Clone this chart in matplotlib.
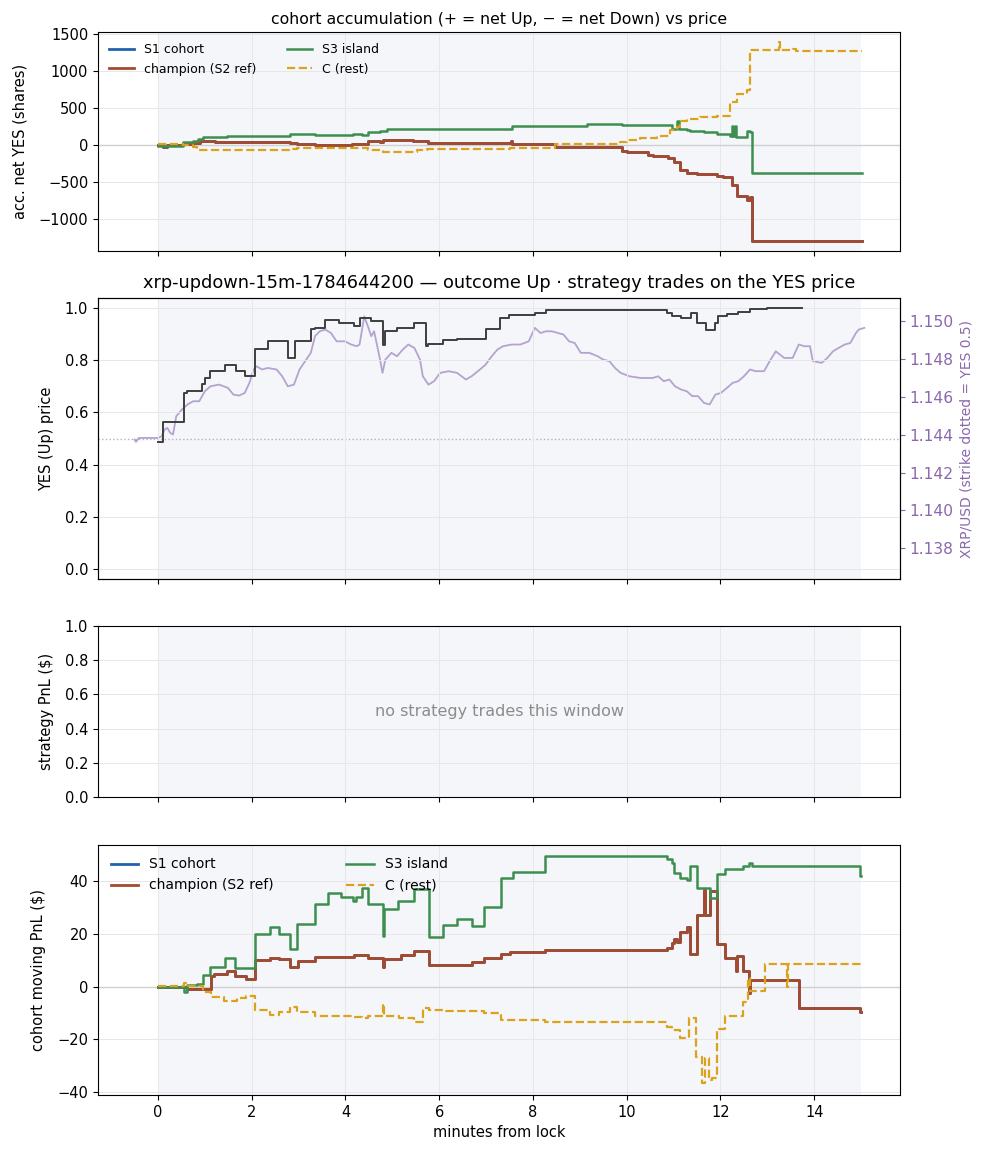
import matplotlib
matplotlib.use("Agg")
import matplotlib.pyplot as plt
import matplotlib.ticker as mticker

# ---------------- data ----------------
# panel 1: accumulated net YES shares (step-post)
acc_s3_t = [0, 0.54, 0.75, 0.86, 0.97, 1.47, 2.82, 3.35, 4.17, 4.35, 4.49, 4.74, 4.88, 7.55, 9.15, 9.89,
            10.96, 11.08, 11.12, 11.28, 11.35, 11.64, 11.92, 12.21, 12.24, 12.27, 12.31, 12.34, 12.56, 12.62,
            12.67, 15.02]
acc_s3_v = [-13, 36, 58, 76, 112, 126, 148, 135, 148, 130, 171, 193, 220, 262, 283, 265,
            216, 330, 212, 205, 194, 180, 150, 122, 256, 122, 256, 115, 194, 180,
            -382, -382]

acc_ch_t = [0, 0.1, 0.2, 0.54, 0.75, 0.9, 1.22, 2.82, 2.96, 3.35, 4.14, 4.49, 4.74, 4.81, 5.45, 5.77,
            7.53, 7.56, 8.47, 9.89, 10.0, 10.46, 10.57, 10.89, 11.0, 11.14, 11.28, 11.5, 11.92, 12.06,
            12.24, 12.35, 12.56, 12.62, 12.67, 13.66, 15.02]
acc_ch_v = [-5, -30, -5, 13, 31, 54, 36, 22, 9, 4, 18, 54, 40, 67, 54, 27,
            60, 18, -31, -76, -99, -135, -144, -180, -225, -338, -373, -391, -414, -428,
            -540, -684, -742, -700, -1297, -1291, -1291]

acc_c_t = [0, 0.54, 0.75, 0.83, 2.82, 2.96, 4.1, 4.49, 4.81, 5.52, 5.73, 7.5, 8.47, 9.85, 10.0, 10.28,
           10.64, 10.93, 11.07, 11.14, 11.28, 11.57, 11.92, 12.21, 12.35, 12.56, 12.63, 13.24, 13.27,
           13.55, 13.62, 15.02]
acc_c_v = [9, -5, -31, -67, -50, -36, -45, -67, -90, -72, -54, -36, 9, 45, 67, 90,
           121, 202, 247, 328, 346, 373, 391, 585, 688, 742, 1282, 1393, 1282,
           1300, 1269, 1269]

# panel 2: YES (Up) price and XRP/USD
yes_t = [0, 0.1, 0.56, 0.61, 0.94, 1.0, 1.12, 1.43, 1.67, 1.85, 2.07, 2.34, 2.77, 2.93, 3.26, 3.35,
         3.57, 3.87, 4.18, 4.3, 4.55, 4.79, 4.85, 5.1, 5.47, 5.71, 5.77, 6.08, 6.38, 6.99, 7.3, 7.48,
         8.04, 8.28, 10.85, 10.97, 11.16, 11.38, 11.5, 11.7, 11.89, 11.95, 12.14, 12.38, 12.63, 12.99,
         13.73]
yes_v = [0.486, 0.563, 0.676, 0.682, 0.708, 0.733, 0.759, 0.781, 0.759, 0.742, 0.845, 0.874, 0.81,
         0.874, 0.919, 0.926, 0.955, 0.945, 0.932, 0.964, 0.951, 0.86, 0.913, 0.926, 0.945, 0.855,
         0.862, 0.88, 0.883, 0.919, 0.964, 0.973, 0.983, 0.994, 0.983, 0.97, 0.964, 0.983, 0.945,
         0.917, 0.945, 0.97, 0.979, 0.986, 0.996, 1.0, 1.0]

xrp_t = [-0.50, -0.47, -0.41, 0.0, 0.08, 0.14, 0.20, 0.26, 0.32, 0.39, 0.51, 0.63, 0.75, 0.88, 1.0,
         1.12, 1.30, 1.49, 1.61, 1.73, 1.85, 1.95, 2.04, 2.10, 2.22, 2.34, 2.53, 2.65, 2.77, 2.90,
         3.02, 3.14, 3.26, 3.35, 3.45, 3.57, 3.69, 3.81, 3.99, 4.12, 4.24, 4.30, 4.40, 4.49, 4.55,
         4.61, 4.67, 4.73, 4.79, 4.85, 4.98, 5.10, 5.22, 5.34, 5.47, 5.59, 5.65, 5.77, 5.89, 6.02,
         6.20, 6.38, 6.57, 6.69, 6.87, 6.99, 7.12, 7.24, 7.36, 7.55, 7.73, 7.91, 8.04, 8.16, 8.28,
         8.40, 8.53, 8.65, 8.77, 8.89, 9.02, 9.20, 9.38, 9.50, 9.63, 9.75, 9.87, 10.06, 10.30, 10.55,
         10.67, 10.79, 10.91, 11.03, 11.16, 11.28, 11.40, 11.52, 11.65, 11.77, 11.89, 12.01, 12.14,
         12.26, 12.38, 12.50, 12.63, 12.75, 12.93, 13.05, 13.18, 13.36, 13.54, 13.67, 13.79, 13.91,
         13.97, 14.16, 14.28, 14.40, 14.52, 14.65, 14.77, 14.89, 14.95, 15.07]
xrp_p = [1.14374, 1.14362, 1.14383, 1.14383, 1.14392, 1.14427, 1.14436, 1.14410, 1.14401, 1.14498,
         1.14533, 1.14560, 1.14577, 1.14577, 1.14630, 1.14656, 1.14665, 1.14648, 1.14612, 1.14607,
         1.14621, 1.14674, 1.14745, 1.14762, 1.14745, 1.14753, 1.14745, 1.14709, 1.14656, 1.14665,
         1.14745, 1.14789, 1.14833, 1.14921, 1.14947, 1.14956, 1.14938, 1.14894, 1.14894, 1.14877,
         1.14868, 1.14877, 1.15026, 1.14965, 1.14921, 1.14947, 1.14877, 1.14806, 1.14727, 1.14797,
         1.14833, 1.14815, 1.14850, 1.14877, 1.14859, 1.14797, 1.14709, 1.14665, 1.14683, 1.14727,
         1.14736, 1.14727, 1.14692, 1.14709, 1.14745, 1.14771, 1.14815, 1.14850, 1.14868, 1.14877,
         1.14877, 1.14894, 1.14965, 1.14938, 1.14947, 1.14947, 1.14938, 1.14930, 1.14894, 1.14885,
         1.14833, 1.14833, 1.14815, 1.14797, 1.14789, 1.14753, 1.14727, 1.14709, 1.14700, 1.14700,
         1.14709, 1.14683, 1.14692, 1.14656, 1.14639, 1.14630, 1.14604, 1.14604, 1.14568, 1.14560,
         1.14612, 1.14621, 1.14648, 1.14674, 1.14683, 1.14709, 1.14745, 1.14736, 1.14736, 1.14789,
         1.14841, 1.14806, 1.14806, 1.14877, 1.14868, 1.14868, 1.14789, 1.14780, 1.14806, 1.14841,
         1.14859, 1.14877, 1.14885, 1.14938, 1.14956, 1.14965]
strike = 1.1438
xrp_half_range = 0.00743

# panel 4: cohort moving PnL ($)
pnl_s3_t = [0, 0.56, 0.61, 0.84, 0.95, 1.12, 1.43, 1.65, 2.07, 2.40, 2.59, 2.82, 2.96, 3.35, 3.63, 3.91,
            4.17, 4.22, 4.36, 4.49, 4.80, 4.83, 5.11, 5.47, 5.78, 6.09, 6.37, 6.70, 6.95, 7.32, 7.58,
            8.25, 10.86, 10.96, 11.0, 11.14, 11.28, 11.34, 11.49, 11.77, 11.92, 12.1, 12.49, 12.6,
            12.67, 14.98, 15.0]
pnl_s3_v = [0, -2, 0.5, 1.1, 4.3, 7.5, 10.9, 7.1, 19.8, 22.6, 19.8, 14.4, 23.6, 31.2, 35.5, 34.0,
            32.5, 34.0, 37.5, 31.2, 19.1, 29.5, 32.5, 36.8, 18.8, 23.3, 25.5, 22.9, 30.2, 41.3, 43.6,
            49.3, 48.3, 46.7, 43.2, 41.3, 40.4, 45.8, 37.5, 33.4, 42.5, 44.4, 45.8, 46.7,
            45.7, 42.0, 42.0]

pnl_ch_t = [0, 0.61, 1.14, 1.2, 1.47, 1.65, 1.87, 2.07, 2.40, 2.59, 2.82, 2.99, 3.35, 4.19, 4.49, 4.80,
            4.83, 5.18, 5.47, 5.78, 6.70, 6.95, 7.32, 7.52, 8.25, 10.86, 10.96, 11.0, 11.07, 11.14,
            11.28, 11.34, 11.49, 11.64, 11.67, 11.77, 11.92, 12.1, 12.33, 12.36, 12.48, 12.6, 12.63,
            13.68, 14.98, 15.0]
pnl_ch_v = [0, -0.8, 3.9, 4.9, 5.9, 4.0, 2.8, 10.0, 10.9, 10.4, 7.5, 9.7, 11.1, 11.8, 10.9, 7.5,
            10.5, 11.9, 13.5, 8.3, 9.4, 10.9, 12.5, 13.0, 13.8, 14.6, 16.5, 17.9, 17.0, 20.7,
            22.7, 12.2, 27.1, 36.6, 27.1, 36.2, 16.0, 10.9, 5.9, 11.6, 5.9, -2.6, 2.5,
            -8.3, -9.6, -9.6]

pnl_c_t = [0, 0.56, 0.61, 0.95, 1.14, 1.40, 1.68, 1.87, 2.07, 2.40, 2.59, 2.82, 2.96, 3.35, 4.19, 4.36,
           4.49, 4.80, 4.83, 5.14, 5.47, 5.66, 5.78, 6.15, 6.95, 7.32, 8.25, 10.86, 10.96, 11.14,
           11.32, 11.47, 11.6, 11.67, 11.76, 11.81, 11.92, 12.1, 12.49, 12.58, 12.63, 12.95, 13.41,
           13.44, 15.0]
pnl_c_v = [0.2, 1.4, 0.1, -2.0, -3.9, -5.4, -4.3, -3.5, -9.0, -10.6, -9.6, -7.7, -9.6, -11.1, -11.6,
           -12.1, -11.1, -6.8, -11.1, -12.1, -13.4, -8.3, -9.0, -9.4, -10.2, -12.8, -13.5, -15.2,
           -16.5, -19.4, -12.0, -26.6, -36.6, -27.2, -35.3, -34.7, -15.9, -11.1, -5.8, 3.1, -1.7,
           8.4, 0.0, 8.4, 8.2]

x_ticks = [0, 2, 4, 6, 8, 10, 12, 14]
window_start, window_end = 0, 15

# ---------------- styling ----------------
C_S1 = "#2161ad"
C_CH = "#a64a2e"
C_S3 = "#3d8f50"
C_C = "#dba31c"
C_YES = "#3f3f3f"
C_XRP = "#b4a3cf"
C_PURPLE = "#8a68ad"
SPAN = "#f5f6fa"
GRID = "#e7e7ea"

plt.rcParams["font.family"] = ["DejaVu Sans"]
plt.rcParams["font.size"] = 10.5

fig = plt.figure(figsize=(9.88, 11.56), dpi=100)
L, W = 98 / 988, 802 / 988


def mk(top_px, bot_px):
    return fig.add_axes([L, 1 - bot_px / 1156, W, (bot_px - top_px) / 1156])


ax1 = mk(32, 251)
ax2 = mk(298, 579)
ax3 = mk(626, 797)
ax4 = mk(845, 1095)

xlim = (-1.28, 15.83)
for ax in (ax1, ax2, ax3, ax4):
    if ax is not ax2:
        ax.axvspan(window_start, window_end, color=SPAN, zorder=0, lw=0)
    ax.set_xlim(*xlim)
    ax.set_xticks(x_ticks)
    ax.grid(True, color=GRID, lw=0.7, zorder=0.5)
    ax.set_axisbelow(True)
    ax.tick_params(labelsize=10.5)
for ax in (ax1, ax2, ax3):
    ax.tick_params(labelbottom=False)

# panel 1
ax1.axhline(0, color="#d0d0d0", lw=1.0, zorder=1)
ax1.plot(acc_ch_t, acc_ch_v, drawstyle="steps-post", color=C_S1, lw=2.0, label="S1 cohort", zorder=2)
ax1.plot(acc_ch_t, acc_ch_v, drawstyle="steps-post", color=C_CH, lw=2.0, label="champion (S2 ref)", zorder=3)
ax1.plot(acc_s3_t, acc_s3_v, drawstyle="steps-post", color=C_S3, lw=1.8, label="S3 island", zorder=3)
ax1.plot(acc_c_t, acc_c_v, drawstyle="steps-post", color=C_C, lw=1.6, ls="--", label="C (rest)", zorder=4)
ax1.set_ylim(-1432, 1527)
ax1.set_yticks([-1000, -500, 0, 500, 1000, 1500])
ax1.set_ylabel("acc. net YES (shares)", labelpad=8)
ax1.set_title("cohort accumulation (+ = net Up, \u2212 = net Down) vs price", fontsize=11.3, pad=6)
ax1.legend(loc="upper left", ncol=2, frameon=False, fontsize=9, handlelength=2.0, columnspacing=2.4)

# panel 2
ax2.plot(yes_t, yes_v, drawstyle="steps-post", color=C_YES, lw=1.4, zorder=3)
ax2.set_ylim(-0.04, 1.04)
ax2.set_yticks([0.0, 0.2, 0.4, 0.6, 0.8, 1.0])
ax2.set_ylabel("YES (Up) price", labelpad=8)
ax2.set_title("xrp-updown-15m-1784644200 \u2014 outcome Up \u00b7 strategy trades on the YES price",
              fontsize=12.8, pad=7)
ax2r = ax2.twinx()
ax2r.set_facecolor("white")
ax2r.axvspan(window_start, window_end, color=SPAN, zorder=0, lw=0)
ax2r.plot(xrp_t, xrp_p, color=C_XRP, lw=1.3, zorder=2)
ax2r.axhline(strike, color="#b9aac9", lw=1.0, ls=":", zorder=1)
ax2r.set_ylim(strike - xrp_half_range, strike + xrp_half_range)
ax2r.set_yticks([1.138, 1.140, 1.142, 1.144, 1.146, 1.148, 1.150])
ax2r.yaxis.set_major_formatter(mticker.FormatStrFormatter("%.3f"))
ax2r.tick_params(axis="y", colors=C_PURPLE, labelsize=11.2)
ax2r.set_ylabel("XRP/USD (strike dotted = YES 0.5)", color=C_PURPLE, fontsize=10)
ax2.set_zorder(ax2r.get_zorder() + 1)
ax2.patch.set_visible(False)

# panel 3
ax3.set_ylim(0, 1)
ax3.set_yticks([0.0, 0.2, 0.4, 0.6, 0.8, 1.0])
ax3.set_ylabel("strategy PnL ($)", labelpad=8)
ax3.text(0.5, 0.5, "no strategy trades this window", transform=ax3.transAxes,
         ha="center", va="center", color="#8c8c8c", fontsize=11.5)

# panel 4
ax4.axhline(0, color="#d0d0d0", lw=1.0, zorder=1)
ax4.plot(pnl_ch_t, pnl_ch_v, drawstyle="steps-post", color=C_S1, lw=2.0, label="S1 cohort", zorder=2)
ax4.plot(pnl_ch_t, pnl_ch_v, drawstyle="steps-post", color=C_CH, lw=2.0, label="champion (S2 ref)", zorder=3)
ax4.plot(pnl_s3_t, pnl_s3_v, drawstyle="steps-post", color=C_S3, lw=1.8, label="S3 island", zorder=3)
ax4.plot(pnl_c_t, pnl_c_v, drawstyle="steps-post", color=C_C, lw=1.6, ls="--", label="C (rest)", zorder=4)
ax4.set_ylim(-41.1, 53.65)
ax4.set_yticks([-40, -20, 0, 20, 40])
ax4.set_ylabel("cohort moving PnL ($)", labelpad=8)
ax4.set_xlabel("minutes from lock")
ax4.legend(loc="upper left", ncol=2, frameon=False, fontsize=10, handlelength=2.0, columnspacing=5.2)

fig.savefig("out.png", dpi=100)
